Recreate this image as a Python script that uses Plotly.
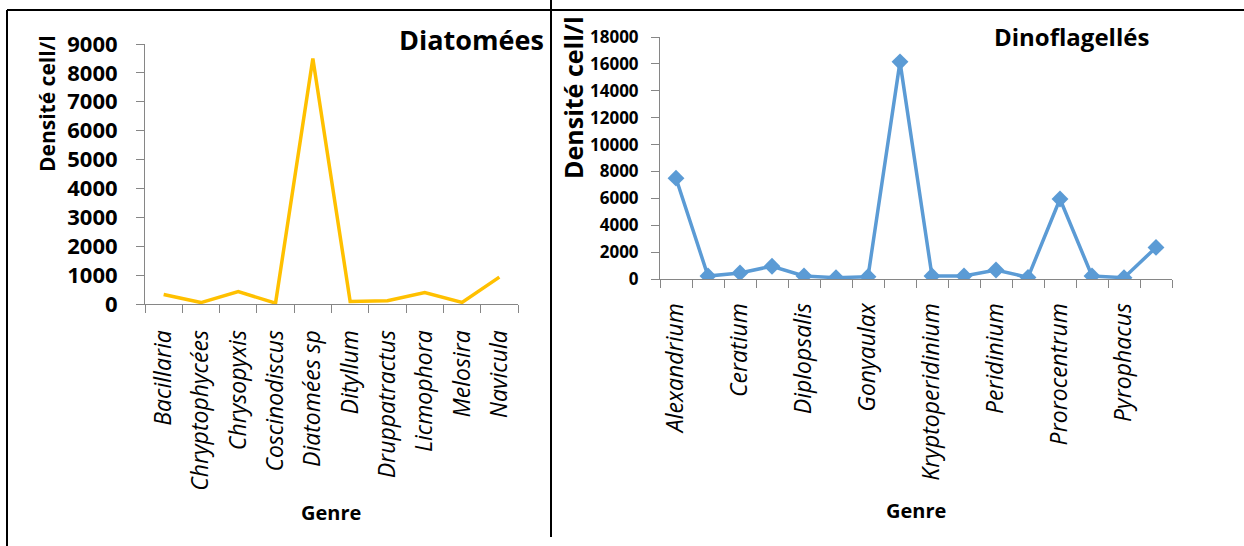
import plotly.graph_objects as go

W, H = 1244, 546

# ---------------- data ----------------
diatom_genres = ["Bacillaria", "Chryptophycées", "Chrysopyxis", "Coscinodiscus",
                 "Diatomées sp", "Dityllum", "Druppatractus", "Licmophora",
                 "Melosira", "Navicula"]
diatom_density = [330, 50, 430, 30, 8500, 90, 115, 400, 55, 930]

# 16 categories, only every other one labelled on the axis
dino_labels = ["Alexandrium", "", "Ceratium", "", "Diplopsalis", "", "Gonyaulax", "",
               "Kryptoperidinium", "", "Peridinium", "", "Prorocentrum", "",
               "Pyrophacus", ""]
dino_density = [7500, 220, 450, 950, 220, 100, 170, 16150,
                220, 220, 670, 120, 5950, 220, 100, 2350]

diatom_yticks = [0, 1000, 2000, 3000, 4000, 5000, 6000, 7000, 8000, 9000]
dino_yticks = [0, 2000, 4000, 6000, 8000, 10000, 12000, 14000, 16000, 18000]

FONT = "Open Sans"
AXIS_GRAY = "#868686"


def px_x(p):
    return p / W


def px_y(p):
    return 1 - p / H


fig = go.Figure()

# Diatomées
dx = list(range(len(diatom_genres)))
fig.add_trace(go.Scatter(x=dx, y=diatom_density, mode="lines",
                         line=dict(color="#FFC000", width=3.5),
                         xaxis="x", yaxis="y", showlegend=False))

# Dinoflagellés
nx = list(range(len(dino_labels)))
fig.add_trace(go.Scatter(x=nx, y=dino_density, mode="lines+markers",
                         line=dict(color="#5B9BD5", width=3.5),
                         marker=dict(symbol="diamond", size=13, color="#5B9BD5"),
                         xaxis="x2", yaxis="y2", showlegend=False))

d_lab_idx = [i for i, t in enumerate(dino_labels) if t]
d_lab_txt = [dino_labels[i] for i in d_lab_idx]

xcommon = dict(showgrid=False, zeroline=False, showline=True, linecolor=AXIS_GRAY,
               linewidth=1, ticks="", tickangle=-90, automargin=False)
ycommon = dict(showgrid=False, zeroline=False, showline=True, linecolor=AXIS_GRAY,
               linewidth=1, ticks="outside", ticklen=8, tickcolor=AXIS_GRAY,
               tickmode="array", automargin=False)

fig.update_layout(
    width=W, height=H,
    margin=dict(l=0, r=0, t=0, b=0, autoexpand=False),
    paper_bgcolor="white", plot_bgcolor="white",
    xaxis=dict(**xcommon, domain=[px_x(145), px_x(518)], anchor="y",
               range=[-0.5, len(diatom_genres) - 0.5],
               tickmode="array", tickvals=dx, ticktext=diatom_genres,
               tickfont=dict(family=FONT, size=23, color="black", style="italic"),
               ticklabelstandoff=16,
               minor=dict(ticks="outside", ticklen=8, tickcolor=AXIS_GRAY,
                          tick0=-0.5, dtick=1, showgrid=False)),
    yaxis=dict(**ycommon, domain=[px_y(304), px_y(44)], anchor="x",
               range=[0, 9000], tickvals=diatom_yticks,
               ticktext=[str(v) for v in diatom_yticks], ticklabelstandoff=14,
               tickfont=dict(family=FONT, size=22, color="black", weight="bold")),
    xaxis2=dict(**xcommon, domain=[px_x(660), px_x(1172)], anchor="y2",
                range=[-0.5, len(dino_labels) - 0.5],
                tickmode="array", tickvals=d_lab_idx, ticktext=d_lab_txt,
                tickfont=dict(family=FONT, size=23, color="black", style="italic"),
                ticklabelstandoff=14,
                minor=dict(ticks="outside", ticklen=8, tickcolor=AXIS_GRAY,
                           tick0=-0.5, dtick=1, showgrid=False)),
    yaxis2=dict(**ycommon, domain=[px_y(279), px_y(37)], anchor="x2",
                range=[0, 18000], tickvals=dino_yticks,
                ticktext=[str(v) for v in dino_yticks], ticklabelstandoff=9,
                tickfont=dict(family=FONT, size=17, color="black", weight="bold")),
)

ann_font = dict(family=FONT, color="black", weight="bold")
fig.add_annotation(text="Diatomées", xref="paper", yref="paper",
                   x=px_x(546), y=px_y(40), xanchor="right", yanchor="middle",
                   showarrow=False, font=dict(**ann_font, size=27))
fig.add_annotation(text="Dinoflagellés", xref="paper", yref="paper",
                   x=px_x(1071), y=px_y(37), xanchor="center", yanchor="middle",
                   showarrow=False, font=dict(**ann_font, size=24))
fig.add_annotation(text="Densité cell/l", xref="paper", yref="paper",
                   x=px_x(47), y=px_y(104), textangle=-90, xanchor="center",
                   yanchor="middle", showarrow=False, font=dict(**ann_font, size=21))
fig.add_annotation(text="Densité cell/l", xref="paper", yref="paper",
                   x=px_x(573), y=px_y(98), textangle=-90, xanchor="center",
                   yanchor="middle", showarrow=False, font=dict(**ann_font, size=25))
fig.add_annotation(text="Genre", xref="paper", yref="paper",
                   x=px_x(331), y=px_y(512), xanchor="center", yanchor="middle",
                   showarrow=False, font=dict(**ann_font, size=20))
fig.add_annotation(text="Genre", xref="paper", yref="paper",
                   x=px_x(916), y=px_y(510), xanchor="center", yanchor="middle",
                   showarrow=False, font=dict(**ann_font, size=20))

# frame lines
line = dict(color="black", width=2)
fig.add_shape(type="line", xref="paper", yref="paper",
              x0=px_x(7), x1=1, y0=px_y(10), y1=px_y(10), line=line)
fig.add_shape(type="line", xref="paper", yref="paper",
              x0=px_x(7), x1=px_x(7), y0=px_y(10), y1=0, line=line)
fig.add_shape(type="line", xref="paper", yref="paper",
              x0=px_x(551), x1=px_x(551), y0=1, y1=px_y(537), line=line)

fig.write_html("out.html", config={"displayModeBar": False},
               post_script="document.body.style.margin='0';document.body.style.overflow='hidden';")
